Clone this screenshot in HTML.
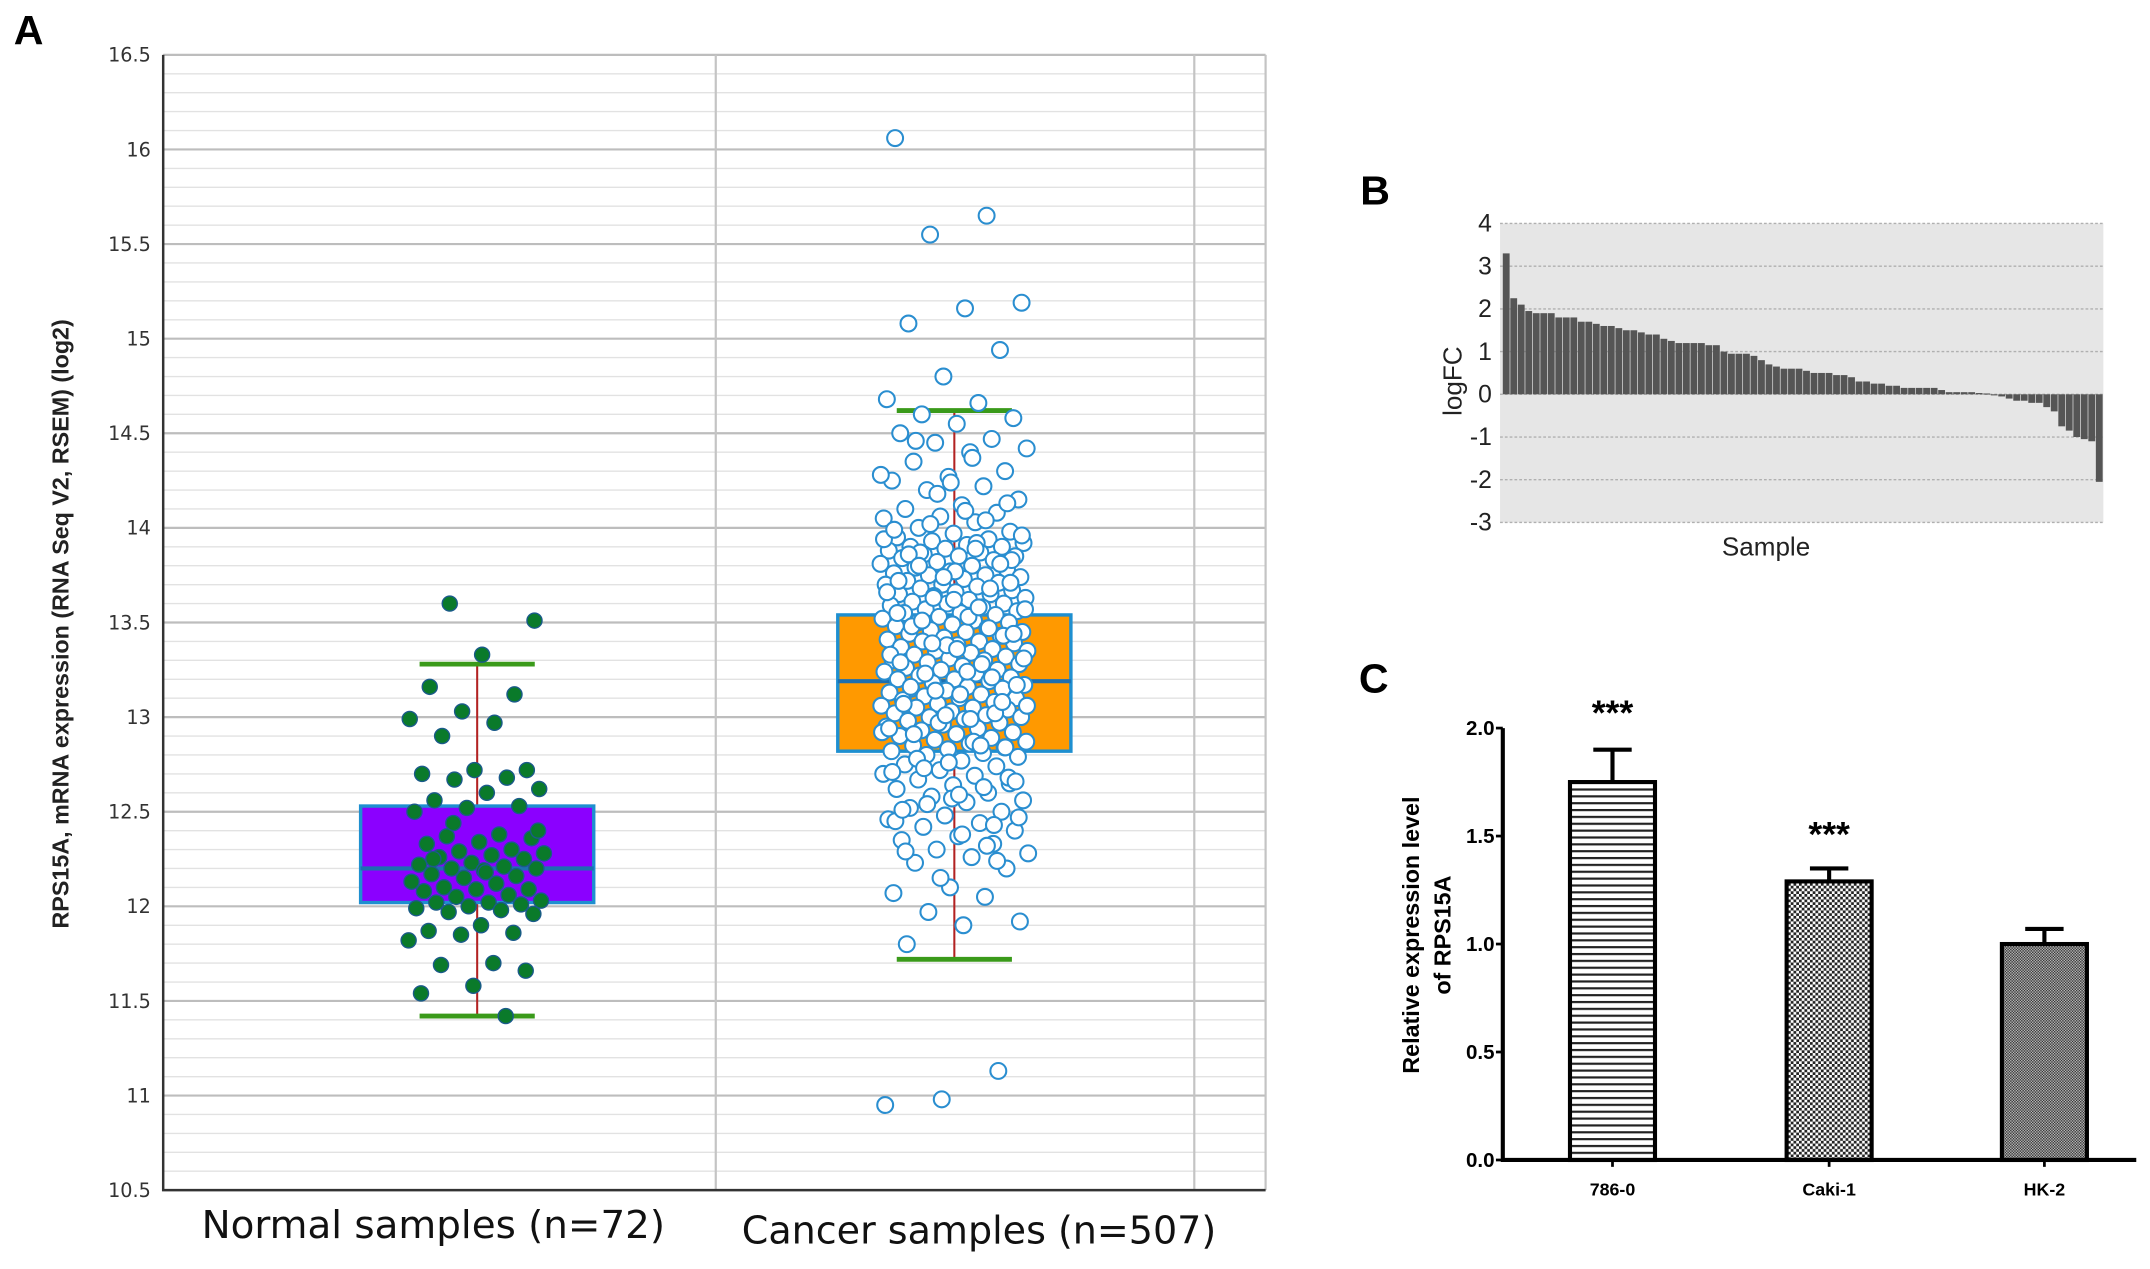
<!DOCTYPE html>
<html><head><meta charset="utf-8"><style>
html,body{margin:0;padding:0;background:#fff;}
svg{display:block;}
</style></head><body>
<svg id="fig" width="2150" height="1269" viewBox="0 0 1568 925.5" xmlns="http://www.w3.org/2000/svg">
<defs>
<pattern id="hlines" width="6" height="5" patternUnits="userSpaceOnUse"><rect width="6" height="5" fill="#fff"/><rect y="0" width="6" height="1.6" fill="#222"/></pattern>
<pattern id="check" width="4" height="4" patternUnits="userSpaceOnUse"><rect width="4" height="4" fill="#fff"/><rect width="2" height="2" fill="#222"/><rect x="2" y="2" width="2" height="2" fill="#222"/></pattern>
<pattern id="check2" width="2" height="2" patternUnits="userSpaceOnUse"><rect width="2" height="2" fill="#bbb"/><rect width="1" height="1" fill="#333"/><rect x="1" y="1" width="1" height="1" fill="#333"/></pattern>
</defs>
<g id="pA"></g>
<g id="pB"></g>
<g id="pC"></g>
</svg>
<script>
// ---------- Panel A data ----------
const groupNames = ["Normal samples (n=72)", "Cancer samples (n=507)"];
const boxQ1 = [12.02, 12.82];
const boxMedian = [12.2, 13.19];
const boxQ3 = [12.53, 13.54];
const whiskerLow = [11.42, 11.72];
const whiskerHigh = [13.28, 14.62];
const yTicksA = [10.5,11,11.5,12,12.5,13,13.5,14,14.5,15,15.5,16,16.5];
const normalValues = [13.6,13.51,13.33,13.16,13.12,13.03,12.99,12.97,12.9,12.72,12.72,12.7,12.68,12.67,12.62,12.6,12.56,12.53,12.52,12.5,12.38,12.37,12.36,12.34,12.33,12.3,12.29,12.28,12.27,12.26,12.25,12.23,12.22,12.21,12.2,12.2,12.19,12.17,12.16,12.15,12.13,12.12,12.1,12.09,12.09,12.08,12.06,12.05,12.03,12.02,12.02,12.01,12.0,11.99,11.98,11.97,11.96,11.9,11.87,11.86,11.85,11.82,11.7,11.69,11.66,11.58,11.54,11.42,12.44,12.4,12.18,12.25];
const cancerValues = [16.06,15.65,15.55,15.19,15.16,15.08,14.94,14.8,14.68,14.66,14.6,14.58,14.55,14.5,14.47,14.45,14.42,14.4,14.35,14.3,14.27,14.25,14.22,14.2,14.15,14.12,14.1,14.08,14.06,14.05,14.03,14.0,
13.98,13.97,13.95,13.94,13.93,13.92,13.91,13.9,13.9,13.89,13.88,13.87,13.86,13.85,13.85,13.84,13.83,13.82,13.81,13.8,
13.79,13.78,13.77,13.76,13.75,13.75,13.74,13.73,13.72,13.71,13.7,13.7,13.69,13.68,13.67,13.66,13.65,13.65,13.64,13.63,13.62,13.61,13.6,13.6,
13.59,13.58,13.57,13.56,13.55,13.55,13.54,13.53,13.52,13.51,13.5,13.5,13.49,13.48,13.47,13.46,13.45,13.45,13.44,13.43,13.42,13.41,13.4,13.4,13.39,13.38,
13.37,13.36,13.35,13.35,13.34,13.33,13.32,13.31,13.3,13.3,13.29,13.28,13.27,13.26,13.25,13.25,13.24,13.23,13.22,13.21,13.2,13.2,13.19,13.18,
13.17,13.16,13.15,13.15,13.14,13.13,13.12,13.11,13.1,13.1,13.09,13.08,13.07,13.06,13.05,13.05,13.04,13.03,13.02,13.01,13.0,13.0,
12.99,12.98,12.97,12.96,12.95,12.94,12.93,12.92,12.91,12.9,12.89,12.88,12.87,12.86,12.85,12.84,12.83,12.82,12.81,12.8,
12.79,12.77,12.75,12.74,12.72,12.7,12.69,12.67,12.65,12.64,12.62,12.6,
12.58,12.56,12.55,12.52,12.5,12.48,12.46,12.44,12.42,12.4,12.37,12.35,12.33,12.3,12.28,12.26,12.23,12.2,
12.1,12.07,12.05,11.97,11.92,11.9,11.8,11.13,10.98,10.95,
13.92,13.87,13.83,13.77,13.72,13.68,13.63,13.57,13.53,13.48,13.43,13.38,13.33,13.28,13.23,13.17,13.12,13.07,13.02,12.97,12.92,12.87,12.78,12.68,12.57,12.45,12.32,14.02,13.96,14.09,
13.86,13.81,13.74,13.66,13.58,13.51,13.44,13.36,13.29,13.21,13.14,13.06,12.99,12.91,12.84,12.76,12.71,12.63,12.54,12.47,12.38,12.29,12.24,12.15,
13.94,13.89,13.8,13.71,13.62,13.55,13.47,13.39,13.31,13.24,13.16,13.08,13.01,12.94,12.85,12.73,12.66,12.59,12.51,12.43,14.18,14.28,14.37,14.46,14.13,14.24,13.99,14.04];

// ---------- Panel B data ----------
const logFC = [3.3,2.25,2.1,1.95,1.9,1.9,1.9,1.8,1.8,1.8,1.7,1.7,1.65,1.6,1.6,1.55,1.5,1.5,1.45,1.4,1.4,1.3,1.25,1.2,1.2,1.2,1.2,1.15,1.15,1.0,0.95,0.95,0.95,0.9,0.8,0.7,0.65,0.6,0.6,0.6,0.55,0.5,0.5,0.5,0.45,0.45,0.4,0.3,0.3,0.25,0.25,0.2,0.2,0.15,0.15,0.15,0.15,0.15,0.1,0.05,0.05,0.05,0.05,0.03,0.02,0,-0.05,-0.1,-0.15,-0.15,-0.2,-0.2,-0.3,-0.4,-0.75,-0.85,-1.0,-1.05,-1.1,-2.05];
const yTicksB = [4,3,2,1,0,-1,-2,-3];

// ---------- Panel C data ----------
const cellLines = ["786-0","Caki-1","HK-2"];
const relExpr = [1.75, 1.29, 1.0];
const relErr = [0.15, 0.06, 0.07];
const sigMarks = ["***","***",""];
const yTicksC = [0.0,0.5,1.0,1.5,2.0];

const NS="http://www.w3.org/2000/svg";
function mk(parent, tag, attrs, text){
  const e=document.createElementNS(NS,tag);
  for(const k in attrs) e.setAttribute(k,attrs[k]);
  if(text!==undefined) e.textContent=text;
  parent.appendChild(e); return e;
}

// ===== Panel A =====
(function(){
  const g=document.getElementById('pA');
  const L=119,R=923,T=40,B=868;
  const y=v=>B-(v-10.5)/6*(B-T);
  const cx=[348,696];
  const lbl=mk(g,'text',{x:10,y:32,'font-family':'Liberation Sans, sans-serif','font-weight':'bold','font-size':30},'A');
   
  for(let v=10.5;v<=16.5001;v+=0.1){
    const major=Math.abs(v*2-Math.round(v*2))<1e-6;
    const ln=mk(g,'line',{x1:L,x2:R,y1:y(v),y2:y(v),stroke:major?'#bdbdbd':'#e2e2e2','stroke-width':major?1.6:1});
     
  }
  [522,871,R].forEach(xx=>{const l=mk(g,'line',{x1:xx,x2:xx,y1:T,y2:B,stroke:'#c4c4c4','stroke-width':1.6});
     });
  const ax=mk(g,'path',{d:`M${L},${T} V${B} H${R}`,fill:'none',stroke:'#333','stroke-width':1.8});
   
  yTicksA.forEach(v=>{
    const t=mk(g,'text',{x:L-9,y:y(v)+5,'text-anchor':'end','font-family':'DejaVu Sans, sans-serif','font-size':14,fill:'#333'},String(v));
     
  });
  const yt=mk(g,'text',{transform:'translate(50,455) rotate(-90)','text-anchor':'middle','font-family':'Liberation Sans, sans-serif','font-weight':'bold','font-size':17,fill:'#222'},'RPS15A, mRNA expression (RNA Seq V2, RSEM) (log2)');
   
  const xl=[316,714], xy=[903,907];
  groupNames.forEach((n,i)=>{
    const t=mk(g,'text',{x:xl[i],y:xy[i],'text-anchor':'middle','font-family':'DejaVu Sans, sans-serif','font-size':28,'textLength':i?346:338,'lengthAdjust':'spacingAndGlyphs',fill:'#111'},n);
     
  });
  const fills=['#8b00ff','#ff9900'];
  for(let i=0;i<2;i++){
    const c=cx[i];
    const w=mk(g,'line',{x1:c,x2:c,y1:y(whiskerLow[i]),y2:y(whiskerHigh[i]),stroke:'#b22222','stroke-width':1.5});
     
    const b=mk(g,'rect',{x:c-85,y:y(boxQ3[i]),width:170,height:y(boxQ1[i])-y(boxQ3[i]),fill:fills[i],stroke:'#1e8fd0','stroke-width':2.5});
     
    const m=mk(g,'line',{x1:c-85,x2:c+85,y1:y(boxMedian[i]),y2:y(boxMedian[i]),stroke:'#1d6fb0','stroke-width':3});
     
    [whiskerLow[i],whiskerHigh[i]].forEach(v=>{
      const cp=mk(g,'line',{x1:c-42,x2:c+42,y1:y(v),y2:y(v),stroke:'#3a9a1a','stroke-width':3.5});
       
    });
  }
  normalValues.forEach((v,i)=>{
    const j=(((i*0.618034+0.3)%1)-0.5)*2*50;
    const p=mk(g,'circle',{cx:cx[0]+j,cy:y(v),r:5.5,fill:'#0a7a2a',stroke:'#1a5a8a','stroke-width':1});
     
  });
  cancerValues.forEach((v,i)=>{
    const j=(((i*0.618034+0.1)%1)-0.5)*2*54;
    const p=mk(g,'circle',{cx:cx[1]+j,cy:y(v),r:5.8,fill:'#fff',stroke:'#2a8ed0','stroke-width':1.5});
     
  });
})();

// ===== Panel B =====
(function(){
  const g=document.getElementById('pB');
  const L=1094,R=1534,T=163,B=381;
  const y=v=>T+(4-v)/7*(B-T);
  const lbl=mk(g,'text',{x:992,y:149,'font-family':'Liberation Sans, sans-serif','font-weight':'bold','font-size':30},'B');
   
  const bg=mk(g,'rect',{x:L,y:T,width:R-L,height:B-T,fill:'#e6e6e6'});
   
  yTicksB.forEach(v=>{
    const l=mk(g,'line',{x1:L,x2:R,y1:y(v),y2:y(v),stroke:'#b0b0b0','stroke-width':1,'stroke-dasharray':'2,1.5'});
     
    const t=mk(g,'text',{x:L-6,y:y(v)+6,'text-anchor':'end','font-family':'Liberation Sans, sans-serif','font-size':18,fill:'#222'},String(v));
     
  });
  const bw=(R-L-2)/logFC.length;
  logFC.forEach((v,i)=>{
    const y0=y(Math.max(v,0)), y1=y(Math.min(v,0));
    const r=mk(g,'rect',{x:L+2+i*bw,y:y0,width:bw-0.5,height:Math.max(y1-y0,0.8),fill:'#555'});
     
  });
  const yt=mk(g,'text',{transform:'translate(1066,278) rotate(-90)','text-anchor':'middle','font-family':'Liberation Sans, sans-serif','font-size':19,fill:'#222'},'logFC');
   
  const xt=mk(g,'text',{x:1288,y:405,'text-anchor':'middle','font-family':'Liberation Sans, sans-serif','font-size':19,fill:'#222'},'Sample');
   
})();

// ===== Panel C =====
(function(){
  const g=document.getElementById('pC');
  const L=1096,R=1558,B=846,T=531;
  const y=v=>B-v/2*(B-T);
  const lbl=mk(g,'text',{x:991,y:505,'font-family':'Liberation Sans, sans-serif','font-weight':'bold','font-size':30},'C');
   
  const cxs=[1176,1334,1491], fills=['url(#hlines)','url(#check)','url(#check2)'];
  relExpr.forEach((v,i)=>{
    const c=cxs[i];
    const e=mk(g,'path',{d:`M${c},${y(v)} V${y(v+relErr[i])} M${c-14},${y(v+relErr[i])} H${c+14}`,stroke:'#000','stroke-width':3,fill:'none'});
     
    const r=mk(g,'rect',{x:c-31,y:y(v),width:62,height:B-y(v),fill:fills[i],stroke:'#000','stroke-width':3});
     
    const t=mk(g,'text',{x:c,y:872,'text-anchor':'middle','font-family':'Liberation Sans, sans-serif','font-weight':'bold','font-size':13},cellLines[i]);
     
    const tk=mk(g,'line',{x1:c,x2:c,y1:B,y2:B+5,stroke:'#000','stroke-width':2});
     
    if(sigMarks[i]){
      const s=mk(g,'text',{x:c,y:y(v+relErr[i])-16-(i==0?2:0),'text-anchor':'middle','font-family':'Liberation Sans, sans-serif','font-weight':'bold','font-size':26},sigMarks[i]);
       
    }
  });
  const ax=mk(g,'path',{d:`M${L},${T} V${B} H${R}`,fill:'none',stroke:'#000','stroke-width':3});
   
  yTicksC.forEach(v=>{
    const tk=mk(g,'line',{x1:L-5,x2:L,y1:y(v),y2:y(v),stroke:'#000','stroke-width':2});
     
    const t=mk(g,'text',{x:L-6,y:y(v)+5,'text-anchor':'end','font-family':'Liberation Sans, sans-serif','font-weight':'bold','font-size':15},v.toFixed(1));
     
  });
  const t1=mk(g,'text',{transform:'translate(1035,682) rotate(-90)','text-anchor':'middle','font-family':'Liberation Sans, sans-serif','font-weight':'bold','font-size':17},'Relative expression level');
   
  const t2=mk(g,'text',{transform:'translate(1058,682) rotate(-90)','text-anchor':'middle','font-family':'Liberation Sans, sans-serif','font-weight':'bold','font-size':17},'of RPS15A');
   
})();
</script>
</body></html>
